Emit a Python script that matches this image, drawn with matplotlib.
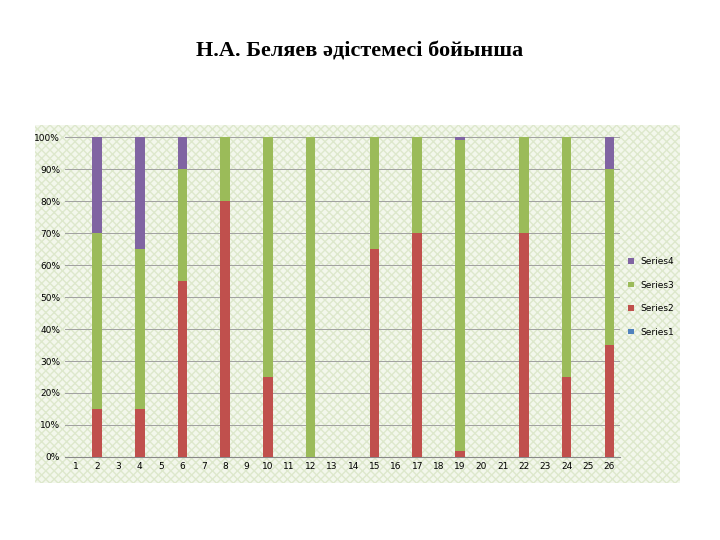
import matplotlib
matplotlib.use("Agg")
import matplotlib.pyplot as plt
from matplotlib.patches import Rectangle
import numpy as np

categories = list(range(1, 27))
series1 = [0]*26
series2 = [0,15,0,15,0,55,0,80,0,25,0,0,0,0,65,0,70,0,2,0,0,70,0,25,0,35]
series3 = [0,55,0,50,0,35,0,20,0,75,0,100,0,0,35,0,30,0,97,0,0,30,0,75,0,55]
series4 = [0,30,0,35,0,10,0,0,0,0,0,0,0,0,0,0,0,0,1,0,0,0,0,0,0,10]

colors = ['#4f81bd', '#c0504d', '#9bbb59', '#8064a2']

fig = plt.figure(figsize=(7.2, 5.4), dpi=100)
fig.patch.set_facecolor('white')
bgax = fig.add_axes([35/720, 1-483/540, (680-35)/720, (483-125)/540])
bgax.set_axis_off()
bgax.add_patch(Rectangle((0, 0), 1, 1, transform=bgax.transAxes,
               facecolor='#f3f7ec', edgecolor='#dde8cc', hatch='xxxx', linewidth=0))
fig.text(0.5, 1-52/540, 'Н.А. Беляев әдістемесі бойынша', ha='center', va='center',
         fontsize=16, fontweight='bold', family='Liberation Serif')

ax = fig.add_axes([65/720, 1-457/540, (620-65)/720, (457-137)/540])
ax.patch.set_alpha(0)
x = np.array(categories)
tot = np.array(series1)+np.array(series2)+np.array(series3)+np.array(series4)
tot = np.where(tot == 0, 1, tot)
bottom = np.zeros(26)
names = ['Series1', 'Series2', 'Series3', 'Series4']
handles = []
for s, c, n in zip([series1, series2, series3, series4], colors, names):
    v = np.array(s)/tot*100
    h = ax.bar(x, v, 0.45, bottom=bottom, color=c, label=n, zorder=3)
    handles.append(h)
    bottom += v
ax.set_xlim(0.5, 26.5)
ax.set_ylim(0, 100)
ax.set_yticks(range(0, 101, 10))
ax.set_yticklabels([f'{v}%' for v in range(0, 101, 10)])
ax.set_xticks(categories)
ax.tick_params(labelsize=6.5, length=0)
ax.grid(axis='y', color='#a0a0a0', linewidth=0.7, zorder=0)
for sp in ['top', 'right', 'left']:
    ax.spines[sp].set_visible(False)
ax.spines['bottom'].set_color('#888888')
ax.legend(handles[::-1], names[::-1], loc='center left', bbox_to_anchor=(1.0, 0.5),
          frameon=False, fontsize=6.5, handlelength=0.6, handleheight=0.6, labelspacing=1.6)
fig.savefig('out.png', dpi=100)
